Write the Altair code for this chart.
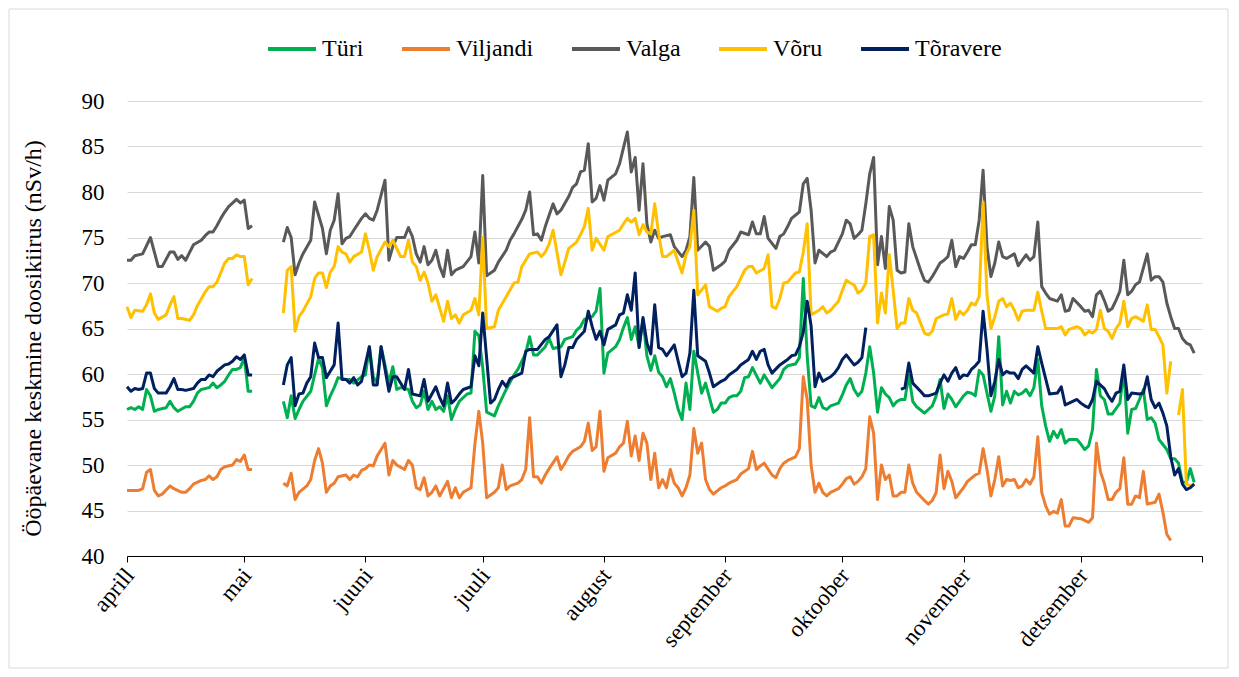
import json
import altair as alt
import pandas as pd

SERIES = ["Türi", "Viljandi", "Valga", "Võru", "Tõravere"]
COLORS = ["#00B050", "#ED7D31", "#595959", "#FFC000", "#002060"]
MONTH_LABELS = ["", "", "", "aprill", "mai", "juuni", "juuli", "august",
                "september", "oktoober", "november", "detsember"]
START = "2021-04-01"
Y_TITLE = "Ööpäevane keskmine doosikiirus (nSv/h)"

# (day offset from 1 April, daily mean value); None marks a data gap
TURI = [(0,56.1),(1,56.3),(2,56.1),(3,56.4),(4,56.1),(5,58.3),(6,57.6),(7,55.9),(8,56.1),(10,56.3),
(11,57.0),(12,56.3),(13,55.9),(15,56.4),(16,56.4),(17,57.0),(18,57.9),(19,58.3),(21,58.5),(22,59.0),
(23,58.5),(24,58.8),(25,59.2),(26,59.9),(27,60.5),(28,60.5),(29,60.7),(30,61.8),(31,58.1),(32,58.1),
(36,None),
(40,57.0),(41,55.2),(42,57.6),(43,55.1),(44,56.1),(45,57.0),(47,58.1),(48,59.9),(49,61.7),(50,60.7),
(51,56.5),(52,57.6),(53,58.5),(54,59.6),(56,59.4),(57,59.4),(58,59.0),(60,59.7),(61,59.9),(62,63.0),
(63,59.7),(64,59.0),(65,63.0),(67,59.0),(68,60.8),(69,58.3),(70,58.5),(71,58.4),(72,58.3),(73,57.0),
(74,56.3),(75,56.6),(76,58.1),(77,56.1),(78,57.0),(79,56.1),(80,56.4),(81,55.9),(82,57.6),(83,55.0),
(84,56.1),(85,57.0),(87,57.8),(88,57.9),(89,64.7),(90,64.2),(91,60.7),(92,55.8),(94,55.4),(95,56.5),
(97,58.3),(99,59.9),(100,60.5),(102,62.3),(103,64.1),(104,62.1),(105,62.1),(107,63.0),(108,63.9),(109,62.8),
(111,63.0),(112,63.8),(114,64.1),(115,64.8),(116,65.2),(117,66.0),(119,66.3),(120,66.9),(121,69.4),(122,60.1),
(123,62.3),(125,63.0),(126,63.8),(127,65.1),(128,66.2),(129,63.8),(130,65.2),(131,63.0),(132,66.0),(133,62.0),
(134,60.4),(135,62.0),(136,60.2),(137,59.7),(138,58.6),(139,59.5),(140,57.9),(141,56.1),(142,55.0),(143,59.0),
(144,56.1),(145,62.5),(146,60.1),(147,57.9),(148,59.0),(150,55.8),(151,56.1),(152,56.8),(153,56.8),(154,57.4),
(155,57.6),(156,57.6),(157,58.1),(158,59.6),(159,59.7),(160,60.7),(162,59.0),(163,59.9),(164,59.2),(165,58.5),
(167,59.5),(168,60.5),(169,60.9),(171,61.1),(172,61.8),(173,70.5),(174,62.0),(175,56.5),(176,56.3),(177,57.4),
(178,56.3),(179,56.1),(180,56.5),(182,56.8),(183,57.7),(184,58.8),(185,59.5),(186,58.3),(187,57.6),(188,58.1),
(189,60.1),(190,63.0),(191,60.1),(192,55.8),(193,58.5),(194,57.8),(195,57.4),(196,56.5),(197,57.0),(198,57.2),
(199,57.2),(200,59.9),(201,57.0),(202,56.4),(204,55.7),(205,56.1),(206,56.5),(207,57.6),(208,59.4),(209,56.2),
(210,57.8),(211,57.2),(212,56.4),(213,57.0),(214,57.6),(215,58.0),(216,57.9),(217,57.6),(218,60.4),(219,59.9),
(220,57.9),(221,55.9),(222,57.6),(223,64.1),(224,56.6),(225,58.1),(226,56.8),(227,58.1),(228,57.7),(229,57.9),
(230,58.3),(231,57.6),(232,58.5),(233,61.6),(234,56.5),(235,54.3),(236,52.6),(237,53.7),(238,53.0),(239,53.9),
(240,52.4),(241,52.8),(243,52.8),(244,52.3),(245,51.7),(246,52.1),(247,53.9),(248,60.5),(249,57.6),(250,57.2),
(251,55.6),(252,55.6),(254,56.8),(255,60.5),(256,53.5),(257,56.1),(258,56.2),(259,57.2),(260,58.3),(261,55.0),
(262,55.2),(263,54.6),(264,52.8),(266,51.7),(267,50.7),(268,50.7),(269,50.2),(270,48.1),(271,48.1),(272,49.6),
(273,48.1)]

VILJANDI = [(0,47.2),(1,47.2),(3,47.2),(4,47.4),(5,49.2),(6,49.5),(7,47.2),(8,46.6),(9,46.8),(11,47.7),
(12,47.4),(14,47.0),(15,47.0),(16,47.4),(17,47.9),(19,48.3),(20,48.4),(21,48.8),(22,48.4),(23,48.7),
(24,49.5),(25,49.8),(27,50.0),(28,50.6),(29,50.4),(30,51.1),(31,49.5),(32,49.5),
(36,None),
(40,48.0),(41,47.7),(42,49.1),(43,46.2),(44,47.0),(46,47.7),(47,48.4),(48,50.5),(49,51.8),(50,50.2),
(51,47.0),(52,47.7),(53,48.0),(54,48.7),(56,48.9),(57,48.4),(58,48.9),(59,48.7),(60,49.4),(61,49.6),
(62,50.0),(63,49.9),(64,51.0),(66,52.4),(67,48.9),(68,50.5),(69,50.0),(71,49.5),(72,50.5),(73,50.0),
(74,47.5),(75,47.3),(76,48.6),(77,46.6),(78,47.0),(79,47.7),(80,46.6),(82,48.2),(83,46.4),(84,47.5),
(85,46.4),(86,47.0),(88,47.5),(89,52.3),(90,55.9),(91,52.4),(92,46.4),(94,47.0),(95,47.5),(96,50.0),
(97,47.3),(98,47.7),(100,48.0),(101,48.4),(102,49.5),(103,55.2),(104,48.7),(105,48.7),(106,48.0),(107,48.9),
(108,49.6),(110,50.9),(111,49.5),(112,50.2),(113,51.0),(114,51.5),(116,52.0),(117,52.6),(118,54.6),(119,51.6),
(120,52.0),(121,55.9),(122,49.3),(123,50.8),(125,51.3),(126,52.0),(127,52.4),(128,54.8),(129,51.0),(130,53.2),
(131,50.5),(132,53.5),(133,52.4),(134,48.4),(135,51.3),(136,47.5),(137,48.4),(138,47.5),(139,49.5),(140,48.0),
(141,47.5),(142,46.6),(143,47.5),(144,48.9),(145,54.0),(146,51.3),(147,52.4),(148,48.4),(149,47.3),(150,46.8),
(152,47.5),(153,47.7),(154,48.0),(156,48.4),(157,49.0),(159,49.6),(160,51.5),(161,49.5),(162,49.9),(163,50.2),
(165,48.9),(166,48.6),(167,49.6),(168,50.2),(169,50.5),(171,50.9),(172,51.8),(173,59.7),(174,57.2),(175,50.0),
(176,47.0),(177,48.0),(178,47.0),(179,46.6),(180,47.0),(182,47.4),(183,47.9),(184,48.5),(185,48.7),(186,47.9),
(187,48.2),(188,48.7),(189,49.6),(190,55.3),(191,53.5),(192,46.2),(193,50.0),(194,48.4),(195,48.9),(196,46.6),
(197,46.6),(198,47.0),(199,47.0),(200,50.0),(201,48.0),(202,47.0),(204,46.1),(205,45.7),(206,46.1),(207,47.0),
(208,51.1),(209,47.4),(210,49.3),(211,48.2),(212,46.4),(214,47.5),(215,48.2),(217,48.9),(218,49.1),(219,51.8),
(220,49.5),(221,46.6),(222,48.4),(223,50.9),(224,47.7),(225,48.4),(226,48.3),(227,48.4),(228,47.5),(229,47.7),
(230,48.4),(231,47.9),(232,48.7),(233,53.1),(234,47.0),(235,45.5),(236,44.6),(237,44.9),(238,44.7),(239,46.2),
(240,43.3),(241,43.3),(242,44.2),(244,44.1),(245,43.9),(246,43.7),(247,44.2),(248,52.4),(249,49.3),(250,48.0),
(251,46.2),(252,46.2),(253,47.0),(254,47.4),(255,50.8),(256,45.7),(257,45.7),(258,46.6),(259,46.4),(260,49.3),
(261,45.7),(263,45.9),(264,46.8),(265,44.8),(266,42.4),(267,41.7)]

VALGA = [(0,72.5),(1,72.5),(2,73.0),(4,73.2),(6,75.0),(8,71.8),(9,71.8),(11,73.4),(12,73.4),(13,72.6),
(14,73.0),(15,72.5),(17,74.2),(19,74.7),(20,75.2),(21,75.6),(22,75.6),(23,76.3),(24,77.1),(25,77.8),
(26,78.4),(28,79.2),(29,78.8),(30,79.1),(31,76.0),(32,76.3),
(36,None),
(40,74.5),(41,76.1),(42,75.0),(43,70.9),(44,72.2),(45,73.2),(47,74.7),(48,78.9),(50,76.0),(51,73.2),
(52,75.8),(53,76.9),(54,79.8),(55,74.3),(56,74.9),(57,75.1),(58,75.8),(60,77.1),(61,77.6),(62,77.1),
(63,76.9),(64,78.0),(66,81.3),(67,72.5),(68,74.0),(69,75.0),(71,75.0),(72,76.1),(73,75.1),(74,73.2),
(75,72.3),(76,74.0),(77,72.0),(78,72.5),(79,73.6),(80,71.8),(81,70.7),(82,73.6),(83,70.9),(84,71.4),
(85,71.6),(86,71.8),(88,72.9),(89,75.6),(90,72.2),(91,81.8),(92,70.8),(94,71.4),(95,72.3),(97,73.6),
(98,74.7),(99,75.4),(100,76.2),(101,77.0),(102,78.0),(103,80.0),(104,75.3),(105,75.4),(106,74.7),(107,76.2),
(109,78.7),(110,77.6),(111,78.0),(113,79.5),(114,80.5),(115,80.9),(116,82.2),(117,82.4),(118,85.3),(119,78.9),
(120,79.3),(121,80.7),(122,79.1),(123,81.3),(125,82.0),(126,83.1),(128,86.6),(129,82.2),(130,83.8),(131,78.0),
(132,83.1),(133,76.5),(134,74.5),(135,75.8),(136,74.9),(137,75.1),(139,75.3),(140,74.0),(142,72.9),(143,73.6),
(144,75.1),(145,81.6),(146,73.6),(148,74.5),(149,74.0),(150,71.4),(152,72.0),(153,72.4),(154,73.6),(156,74.7),
(157,75.6),(159,75.3),(160,76.7),(161,75.4),(162,75.4),(163,77.3),(164,74.9),(166,73.8),(167,75.1),(168,75.4),
(169,76.2),(170,77.1),(172,77.8),(173,80.9),(174,81.5),(175,78.0),(176,72.2),(177,73.6),(179,72.9),(180,73.4),
(181,73.6),(183,75.4),(184,76.9),(185,76.5),(186,74.9),(187,75.3),(188,75.8),(189,78.7),(190,82.0),(191,83.8),
(192,72.0),(193,75.1),(194,71.6),(195,78.4),(196,76.9),(197,71.4),(198,71.1),(199,71.2),(200,76.5),(201,74.0),
(203,71.4),(204,70.3),(205,70.1),(206,70.7),(208,72.2),(209,72.5),(210,72.9),(211,74.7),(212,71.8),(213,72.9),
(214,72.7),(215,73.4),(216,74.2),(217,74.2),(218,76.9),(219,82.4),(220,74.0),(221,70.7),(222,72.2),(223,74.5),
(224,72.9),(225,72.7),(227,73.2),(228,71.9),(229,72.5),(230,73.1),(231,72.5),(232,72.9),(233,76.7),(234,69.6),
(235,68.9),(236,68.3),(238,68.0),(239,68.7),(240,66.9),(241,67.0),(242,68.3),(244,67.4),(245,66.9),(246,67.0),
(247,66.3),(248,68.7),(249,69.1),(250,68.1),(251,66.9),(252,67.2),(253,68.1),(254,69.1),(255,72.5),(256,68.7),
(257,69.1),(258,69.8),(259,70.1),(261,73.2),(262,70.3),(263,70.7),(264,70.7),(265,70.1),(266,67.8),(267,66.3),
(268,65.0),(269,65.0),(270,63.9),(271,63.4),(272,63.2),(273,62.3)]

VORU = [(0,67.4),(1,66.2),(2,67.0),(4,66.9),(5,67.6),(6,68.8),(7,66.7),(8,66.0),(10,66.5),(11,67.6),
(12,68.5),(13,66.1),(14,66.1),(16,65.9),(17,66.5),(18,67.5),(20,69.0),(21,69.6),(22,69.6),(23,70.1),
(25,72.2),(26,72.7),(27,72.7),(28,73.1),(29,72.9),(30,72.9),(31,69.8),(32,70.5),
(36,None),
(40,66.7),(41,71.4),(42,71.8),(43,64.7),(44,66.3),(45,66.9),(47,68.5),(48,70.5),(49,71.1),(50,71.1),
(51,69.5),(52,71.2),(53,71.8),(54,74.0),(55,73.4),(56,73.2),(57,72.3),(58,72.9),(60,73.4),(61,75.4),
(62,73.6),(63,71.4),(64,72.9),(66,74.5),(67,74.0),(68,74.7),(70,72.9),(71,72.9),(72,74.7),(73,72.3),
(74,71.8),(75,70.3),(76,71.2),(77,70.0),(78,68.0),(79,68.7),(81,65.8),(82,68.0),(83,66.1),(84,66.5),
(85,65.6),(86,66.5),(88,67.0),(89,68.3),(90,66.5),(91,75.0),(92,65.0),(94,65.2),(95,67.0),(97,68.5),
(99,70.0),(100,70.1),(101,71.8),(102,72.5),(103,73.2),(105,73.4),(106,72.9),(107,73.4),(108,74.3),(109,75.8),
(111,70.9),(112,72.3),(113,73.8),(115,74.5),(116,75.3),(117,76.2),(118,78.2),(119,73.6),(120,74.9),(122,73.6),
(123,75.1),(126,75.8),(127,76.5),(128,77.1),(129,76.7),(130,77.1),(131,75.3),(132,76.4),(133,75.6),(134,75.4),
(135,78.7),(136,75.4),(137,72.9),(138,72.9),(140,73.6),(141,72.3),(142,71.1),(143,73.1),(144,74.0),(145,78.0),
(146,68.7),(148,69.8),(149,67.4),(151,66.9),(152,67.2),(153,67.4),(154,68.5),(156,69.6),(158,71.4),(159,71.8),
(160,71.8),(161,71.1),(163,71.6),(164,73.1),(165,67.4),(166,67.2),(167,68.3),(168,70.0),(169,70.1),(171,71.1),
(172,71.2),(173,73.4),(174,76.5),(175,66.5),(177,67.0),(178,67.4),(179,66.7),(180,67.0),(182,68.0),(183,69.2),
(184,70.3),(185,70.0),(186,69.8),(187,68.9),(188,69.2),(189,70.0),(190,75.1),(191,75.3),(192,65.6),(193,68.9),
(194,66.7),(195,73.1),(196,69.2),(197,65.0),(198,65.6),(199,65.6),(200,68.3),(201,67.0),(202,66.7),(204,64.5),
(205,64.3),(206,64.7),(207,66.1),(209,66.5),(210,66.6),(211,68.3),(212,66.0),(213,66.9),(214,66.5),(215,67.0),
(216,67.8),(217,67.6),(218,68.5),(219,78.9),(220,68.7),(221,65.0),(222,66.3),(223,68.0),(224,68.3),(225,67.4),
(226,67.8),(227,67.0),(228,65.9),(229,66.9),(230,67.0),(232,67.0),(233,69.0),(234,66.9),(235,65.0),(236,65.0),
(238,65.0),(239,65.2),(240,64.3),(241,64.9),(243,65.2),(244,65.0),(245,64.3),(246,64.7),(247,64.5),(248,64.9),
(249,67.0),(250,65.0),(251,64.7),(252,63.9),(253,65.0),(254,65.6),(255,68.0),(256,65.2),(257,66.1),(258,66.3),
(260,65.8),(261,67.6),(262,64.9),(263,64.9),(264,64.1),(265,63.2),(266,57.9),(267,61.4),
(268,None),
(269,55.5),(270,58.3),(271,47.9),(272,47.7),(273,47.9)]

TORAVERE = [(0,58.6),(1,58.1),(2,58.4),(3,58.3),(4,58.4),(5,60.1),(6,60.1),(7,58.4),(8,57.9),(10,57.9),
(11,58.6),(12,59.5),(13,58.3),(14,58.3),(15,58.2),(17,58.4),(18,59.0),(19,59.4),(20,59.4),(21,59.9),
(22,59.7),(23,60.3),(25,61.0),(26,61.1),(27,61.4),(28,61.9),(29,61.6),(30,62.1),(31,59.9),(32,59.9),
(36,None),
(40,58.8),(41,61.0),(42,61.8),(43,56.5),(44,57.8),(45,57.9),(46,59.0),(47,59.7),(48,63.4),(49,61.8),
(50,61.8),(51,59.6),(52,60.3),(53,61.0),(54,65.6),(55,59.4),(56,59.4),(57,59.0),(58,59.6),(59,58.8),
(60,59.2),(62,63.0),(63,58.8),(64,58.8),(65,63.0),(67,58.1),(68,59.7),(69,59.7),(71,58.3),(72,60.5),
(73,57.8),(75,57.6),(76,59.4),(77,57.0),(79,58.6),(80,57.4),(81,56.5),(82,59.0),(83,56.8),(84,57.2),
(85,57.8),(86,58.3),(88,58.6),(89,62.0),(90,60.9),(91,66.7),(93,56.8),(94,57.2),(95,58.3),(96,59.2),
(97,58.6),(98,59.5),(100,59.9),(101,60.1),(102,62.5),(103,62.7),(104,62.7),(105,62.7),(107,63.8),(108,64.1),
(110,65.4),(111,59.7),(112,61.0),(113,62.9),(114,62.9),(115,63.8),(117,64.7),(118,66.9),(119,65.2),(120,63.8),
(121,64.7),(122,63.2),(123,64.9),(125,65.4),(126,66.5),(127,66.7),(128,68.7),(129,67.0),(130,71.1),(131,62.9),
(132,66.2),(133,63.4),(134,62.2),(135,67.6),(136,62.9),(137,62.7),(138,62.0),(140,63.2),(141,61.4),(142,59.7),
(143,60.1),(144,62.3),(145,69.2),(146,62.0),(148,61.4),(149,60.1),(150,58.6),(152,59.2),(153,59.4),(154,59.9),
(156,60.5),(157,61.0),(159,61.6),(160,62.5),(161,61.6),(162,62.5),(163,62.7),(164,61.0),(165,60.1),(167,61.0),
(169,61.6),(170,62.0),(171,62.1),(172,63.0),(173,64.6),(174,68.0),(175,65.3),(176,58.6),(177,60.1),(178,59.2),
(180,59.7),(181,60.1),(182,60.7),(183,61.6),(184,62.1),(186,61.0),(187,61.3),(188,61.8),(189,65.1),
(193,None),
(198,58.3),(199,58.5),(200,61.2),(201,59.0),(203,58.1),(204,57.6),(205,57.6),(207,57.9),(208,59.0),(209,59.9),
(210,59.2),(211,60.1),(212,60.7),(213,59.5),(214,59.9),(215,59.8),(216,60.5),(217,60.9),(218,61.4),(219,66.9),
(220,62.7),(221,57.6),(222,59.2),(223,61.6),(224,59.9),(225,60.3),(226,60.1),(227,60.1),(228,59.5),(229,60.5),
(230,60.9),(232,60.1),(233,63.0),(234,61.2),(235,59.5),(236,57.8),(238,57.9),(239,58.6),(240,56.6),(241,56.8),
(243,57.2),(244,56.8),(245,56.5),(246,56.3),(247,57.2),(248,59.2),(250,58.4),(251,57.6),(252,57.0),(253,57.9),
(254,58.1),(255,61.0),(256,57.2),(257,57.9),(259,57.8),(260,57.9),(261,59.7),(262,57.2),(263,56.3),(264,56.8),
(265,55.7),(266,54.3),(267,50.9),(268,48.9),(269,49.6),(270,47.9),(271,47.3),(272,47.5),(273,47.9)]

ALL = [TURI, VILJANDI, VALGA, VORU, TORAVERE]

rows = []
start = pd.Timestamp(START)
for name, pts in zip(SERIES, ALL):
    seg = 0
    for d, v in pts:
        if v is None:
            seg += 1
            continue
        rows.append({"series": name, "seg": f"{name}-{seg}",
                     "date": start + pd.Timedelta(days=d), "value": v})
df = pd.DataFrame(rows)

FONT = "Liberation Serif"
W, H = 1075, 455
PAD = {"left": 119, "top": 93, "right": 27, "bottom": 113}

month_ticks = [alt.DateTime(year=2021, month=m, date=1) for m in range(4, 13)] + \
              [alt.DateTime(year=2022, month=1, date=1)]
label_expr = json.dumps(MONTH_LABELS) + "[month(datum.value)]"

x_enc = alt.X(
    "date:T",
    scale=alt.Scale(domain=[alt.DateTime(year=2021, month=4, date=1),
                            alt.DateTime(year=2022, month=1, date=1)]),
    axis=alt.Axis(values=month_ticks, labelExpr=label_expr, title=None, grid=False,
                  domainColor="#000000", domainWidth=1, tickColor="#000000", tickSize=6,
                  labelAngle=-50, labelAlign="right", labelBaseline="top",
                  labelFont=FONT, labelFontSize=23, labelColor="#000000",
                  labelPadding=2, labelOffset=-6, labelOverlap=False),
)
y_enc = alt.Y(
    "value:Q",
    scale=alt.Scale(domain=[40, 90], nice=False, zero=False),
    axis=alt.Axis(values=list(range(40, 91, 5)), title=Y_TITLE, ticks=False, domain=False,
                  grid=True, gridColor="#D9D9D9", gridWidth=1,
                  labelFont=FONT, labelFontSize=23, labelColor="#000000", labelPadding=23,
                  titleFont=FONT, titleFontSize=24, titleFontWeight="normal",
                  titleColor="#000000", titleAngle=270, titleX=-94, titleY=237,
                  titleAlign="center", titleBaseline="middle"),
)
color_enc = alt.Color(
    "series:N",
    scale=alt.Scale(domain=SERIES, range=COLORS),
    legend=alt.Legend(title=None, orient="none", direction="horizontal",
                      legendX=139, legendY=-78, symbolType="stroke", symbolSize=2300,
                      symbolStrokeWidth=4, labelFont=FONT, labelFontSize=24,
                      labelColor="#000000", labelOffset=4, columnPadding=30, padding=0),
)

base = alt.Chart(df).mark_line(strokeWidth=3, strokeJoin="round").encode(
    x=x_enc, y=y_enc, color=color_enc, detail="seg:N"
)
lines = [base.transform_filter(alt.datum.series == s) for s in SERIES]

frame = alt.Chart(pd.DataFrame({"k": [0]})).mark_rect(
    fill="transparent", stroke="#D9D9D9", strokeWidth=1
).encode(
    x=alt.value(-118), x2=alt.value(W + PAD["right"] - 1),
    y=alt.value(-92), y2=alt.value(H + PAD["bottom"] - 1),
)

chart = alt.layer(frame, *lines).properties(
    width=W, height=H, padding=PAD,
    autosize=alt.AutoSizeParams(type="none"),
).configure_view(stroke="transparent")

chart.save("out.html", embed_options={"renderer": "svg", "actions": False})
